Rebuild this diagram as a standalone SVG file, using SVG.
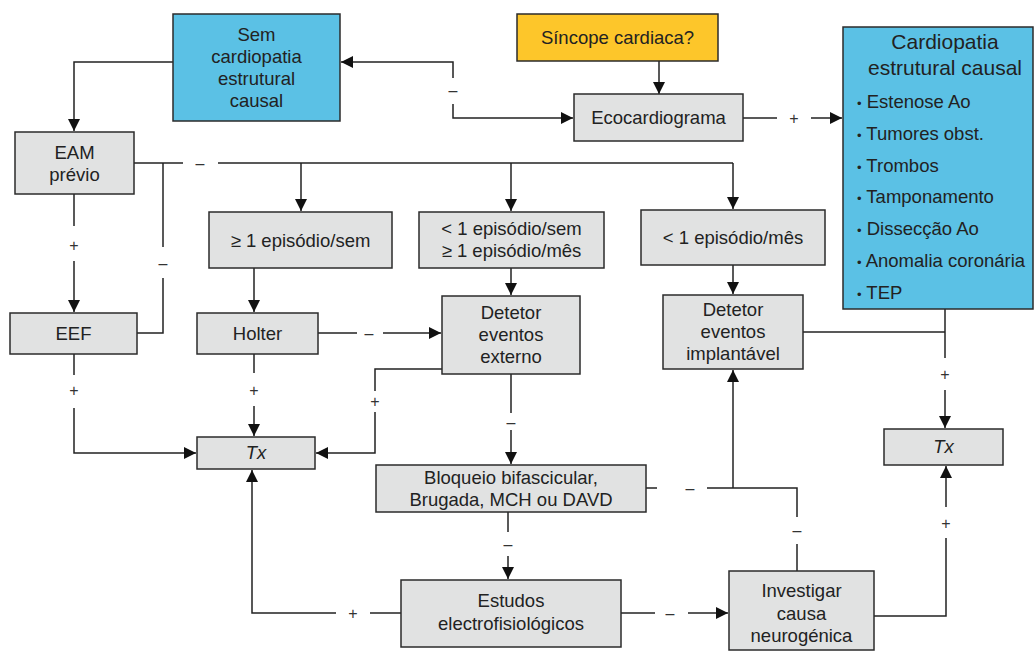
<svg xmlns="http://www.w3.org/2000/svg" width="1035" height="652" viewBox="0 0 1035 652">
  <style>
    .box { fill: #e1e2e2; stroke: #2b2b2b; stroke-width: 1.5; }
    .blue { fill: #5bc1e5; stroke: #2b2b2b; stroke-width: 1.5; }
    .yellow { fill: #fdc62a; stroke: #2b2b2b; stroke-width: 1.5; }
    text { font-family: "Liberation Sans", Arial, sans-serif; fill: #222; }
    .t { font-size: 18.5px; text-anchor: middle; }
    .title { font-size: 21px; text-anchor: middle; }
    .item { font-size: 18.5px; }
    .dot { font-size: 13px; }
    .it { font-style: italic; }
    .lab { font-size: 16px; fill: #333; text-anchor: middle; dominant-baseline: central; }
    .c { fill: none; stroke: #222; stroke-width: 1.5; }
  </style>
  <defs>
    <marker id="arrow" viewBox="0 0 12 12" refX="12" refY="6" markerWidth="12" markerHeight="12" markerUnits="userSpaceOnUse" orient="auto">
      <path d="M0,0 L12,6 L0,12 Z" fill="#111"/>
    </marker>
  </defs>

  <!-- connectors -->
  <g id="connectors">
    <path class="c" d="M659 61 V94" marker-end="url(#arrow)"/>
    <path class="c" d="M453 78 V62 H341" marker-end="url(#arrow)"/>
    <path class="c" d="M453 104 V118 H573" marker-end="url(#arrow)"/>
    <path class="c" d="M743 118 H777"/>
    <path class="c" d="M811 118 H842" marker-end="url(#arrow)"/>
    <path class="c" d="M173 62 H74 V131" marker-end="url(#arrow)"/>
    <path class="c" d="M134 163 H183"/>
    <path class="c" d="M218 163 H733"/>
    <path class="c" d="M301 163 V211" marker-end="url(#arrow)"/>
    <path class="c" d="M511 163 V211" marker-end="url(#arrow)"/>
    <path class="c" d="M733 163 V209" marker-end="url(#arrow)"/>
    <path class="c" d="M163 163 V247"/>
    <path class="c" d="M163 278 V333 H137"/>
    <path class="c" d="M74 194 V226"/>
    <path class="c" d="M74 261 V312" marker-end="url(#arrow)"/>
    <path class="c" d="M74 354 V375"/>
    <path class="c" d="M74 408 V453 H196" marker-end="url(#arrow)"/>
    <path class="c" d="M254 268 V312" marker-end="url(#arrow)"/>
    <path class="c" d="M318 333 H357"/>
    <path class="c" d="M383 333 H441" marker-end="url(#arrow)"/>
    <path class="c" d="M254 354 V373"/>
    <path class="c" d="M254 406 V436" marker-end="url(#arrow)"/>
    <path class="c" d="M511 268 V295" marker-end="url(#arrow)"/>
    <path class="c" d="M442 369 H375 V391"/>
    <path class="c" d="M375 412 V453 H316" marker-end="url(#arrow)"/>
    <path class="c" d="M511 374 V413"/>
    <path class="c" d="M511 430 V464" marker-end="url(#arrow)"/>
    <path class="c" d="M733 265 V294" marker-end="url(#arrow)"/>
    <path class="c" d="M803 332 H945"/>
    <path class="c" d="M945 309 V358"/>
    <path class="c" d="M945 390 V428" marker-end="url(#arrow)"/>
    <path class="c" d="M508 512 V532"/>
    <path class="c" d="M508 556 V579" marker-end="url(#arrow)"/>
    <path class="c" d="M646 488 H657"/>
    <path class="c" d="M707 488 H797 V517"/>
    <path class="c" d="M797 544 V571"/>
    <path class="c" d="M733 488 V370" marker-end="url(#arrow)"/>
    <path class="c" d="M401 613 H370"/>
    <path class="c" d="M336 613 H252 V470" marker-end="url(#arrow)"/>
    <path class="c" d="M621 613 H655"/>
    <path class="c" d="M688 613 H728" marker-end="url(#arrow)"/>
    <path class="c" d="M874 616 H946 V538"/>
    <path class="c" d="M946 507 V466" marker-end="url(#arrow)"/>

    <!-- branch labels -->
    <text class="lab" x="453" y="90">–</text>
    <text class="lab" x="794" y="118">+</text>
    <text class="lab" x="200" y="163">–</text>
    <text class="lab" x="163" y="263">–</text>
    <text class="lab" x="74" y="245">+</text>
    <text class="lab" x="74" y="390">+</text>
    <text class="lab" x="369" y="333">–</text>
    <text class="lab" x="254" y="390">+</text>
    <text class="lab" x="375" y="401">+</text>
    <text class="lab" x="511" y="422">–</text>
    <text class="lab" x="945" y="374">+</text>
    <text class="lab" x="508" y="544">–</text>
    <text class="lab" x="690" y="488">–</text>
    <text class="lab" x="797" y="530">–</text>
    <text class="lab" x="353" y="613">+</text>
    <text class="lab" x="670" y="613">–</text>
    <text class="lab" x="946" y="523">+</text>
  </g>

  <!-- nodes -->
  <g id="sem-cardiopatia">
    <rect class="blue" x="173" y="14" width="167" height="107"/>
    <text class="t" x="256.5" y="41">Sem</text>
    <text class="t" x="256.5" y="63">cardiopatia</text>
    <text class="t" x="256.5" y="85">estrutural</text>
    <text class="t" x="256.5" y="107">causal</text>
  </g>
  <g id="sincope">
    <rect class="yellow" x="517" y="14" width="201" height="47"/>
    <text class="t" x="617.5" y="44">Síncope cardiaca?</text>
  </g>
  <g id="ecocardiograma">
    <rect class="box" x="574" y="94" width="169" height="47"/>
    <text class="t" x="658.5" y="124">Ecocardiograma</text>
  </g>
  <g id="cardiopatia-estrutural">
    <rect class="blue" x="843" y="27" width="190" height="282"/>
    <text class="title" x="945" y="49">Cardiopatia</text>
    <text class="title" x="945" y="75">estrutural causal</text>
    <text class="item" x="857" y="108"><tspan class="dot">•</tspan> Estenose Ao</text>
    <text class="item" x="857" y="140"><tspan class="dot">•</tspan> Tumores obst.</text>
    <text class="item" x="857" y="172"><tspan class="dot">•</tspan> Trombos</text>
    <text class="item" x="857" y="203"><tspan class="dot">•</tspan> Tamponamento</text>
    <text class="item" x="857" y="235"><tspan class="dot">•</tspan> Dissecção Ao</text>
    <text class="item" x="857" y="267"><tspan class="dot">•</tspan> Anomalia coronária</text>
    <text class="item" x="857" y="299"><tspan class="dot">•</tspan> TEP</text>
  </g>
  <g id="eam">
    <rect class="box" x="15" y="132" width="119" height="62"/>
    <text class="t" x="74.5" y="159">EAM</text>
    <text class="t" x="74.5" y="181">prévio</text>
  </g>
  <g id="eef">
    <rect class="box" x="10" y="313" width="127" height="41"/>
    <text class="t" x="73.5" y="340">EEF</text>
  </g>
  <g id="ep-semana">
    <rect class="box" x="209" y="212" width="183" height="56"/>
    <text class="t" x="300.5" y="247">≥ 1 episódio/sem</text>
  </g>
  <g id="holter">
    <rect class="box" x="197" y="313" width="121" height="41"/>
    <text class="t" x="257.5" y="340">Holter</text>
  </g>
  <g id="ep-mes">
    <rect class="box" x="419" y="212" width="185" height="56"/>
    <text class="t" x="511.5" y="235">&lt; 1 episódio/sem</text>
    <text class="t" x="511.5" y="257">≥ 1 episódio/mês</text>
  </g>
  <g id="ep-menos-mes">
    <rect class="box" x="641" y="210" width="184" height="55"/>
    <text class="t" x="733" y="244">&lt; 1 episódio/mês</text>
  </g>
  <g id="detetor-externo">
    <rect class="box" x="442" y="296" width="138" height="78"/>
    <text class="t" x="511" y="319">Detetor</text>
    <text class="t" x="511" y="341">eventos</text>
    <text class="t" x="511" y="363">externo</text>
  </g>
  <g id="detetor-implantavel">
    <rect class="box" x="663" y="295" width="140" height="74"/>
    <text class="t" x="733" y="316">Detetor</text>
    <text class="t" x="733" y="338">eventos</text>
    <text class="t" x="733" y="360">implantável</text>
  </g>
  <g id="tx-esquerda">
    <rect class="box" x="197" y="437" width="118" height="32"/>
    <text class="t it" x="256" y="459">Tx</text>
  </g>
  <g id="tx-direita">
    <rect class="box" x="884" y="429" width="119" height="36"/>
    <text class="t it" x="943.5" y="453">Tx</text>
  </g>
  <g id="bloqueio">
    <rect class="box" x="376" y="465" width="270" height="47"/>
    <text class="t" x="511" y="484">Bloqueio bifascicular,</text>
    <text class="t" x="511" y="506">Brugada, MCH ou DAVD</text>
  </g>
  <g id="estudos">
    <rect class="box" x="401" y="580" width="220" height="67"/>
    <text class="t" x="511" y="607">Estudos</text>
    <text class="t" x="511" y="630">electrofisiológicos</text>
  </g>
  <g id="investigar">
    <rect class="box" x="729" y="571" width="145" height="79"/>
    <text class="t" x="801.5" y="597">Investigar</text>
    <text class="t" x="801.5" y="620">causa</text>
    <text class="t" x="801.5" y="642">neurogénica</text>
  </g>
</svg>
